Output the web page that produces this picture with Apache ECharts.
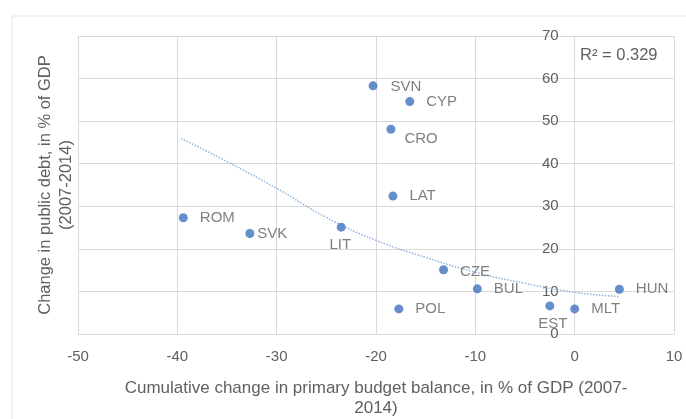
<!DOCTYPE html>
<html>
<head>
<meta charset="utf-8">
<script src="https://cdn.jsdelivr.net/npm/echarts@6/dist/echarts.min.js"></script>
<style>
  html, body { margin: 0; padding: 0; background: #fff; }
  #chart { width: 686px; height: 419px; }
</style>
</head>
<body>
<div id="chart"></div>
<script>
// countries and their values
var countries = ["SVN", "CYP", "CRO", "LAT", "ROM", "SVK", "LIT", "CZE", "BUL", "POL", "EST", "MLT", "HUN"];
var balanceChange = [-20.3, -16.6, -18.5, -18.3, -39.4, -32.7, -23.5, -13.2, -9.8, -17.7, -2.5, 0.0, 4.5];
var debtChange = [58.3, 54.6, 48.1, 32.4, 27.3, 23.6, 25.1, 15.1, 10.6, 5.9, 6.6, 5.9, 10.5];

// points
var trendX = [-39.6, -35, -30, -25, -20, -15, -10, -5, 0, 4.5];
var trendY = [45.9, 40.5, 34.2, 27.4, 22.0, 18.0, 14.5, 11.9, 9.8, 8.8];

var xTicks = [-50, -40, -30, -20, -10, 0, 10];
var yTicks = [0, 10, 20, 30, 40, 50, 60, 70];
var rSquared = "R² = 0.329";

var textColor = "#606060";
var gridColor = "#d9d9d9";
var font = "'Liberation Sans', Arial, sans-serif";

// label placement per country
var labelCfg = {
  SVK: { position: "right", distance: 3 },
  LIT: { position: "bottom", distance: 6, offset: [-1, 0] },
  CRO: { position: "right", distance: 9, offset: [0, 10] },
  SVN: { position: "right", distance: 13, offset: [0, 1] },
  CZE: { position: "right", distance: 12, offset: [0, 2] },
  EST: { position: "bottom", distance: 6, offset: [3, 0] },
};

var points = countries.map(function (name, i) {
  var cfg = labelCfg[name] || { position: "right", distance: 12 };
  return {
    value: [balanceChange[i], debtChange[i]],
    name: name,
    label: cfg,
  };
});

var trend = trendX.map(function (x, i) {
  return [x, trendY[i]];
});

var myChart = echarts.init(document.getElementById("chart"));
var option = {
  animation: false,
  backgroundColor: "#fff",
  textStyle: { fontFamily: font },
  grid: {
    left: 78,
    right: 12,
    top: 36,
    bottom: 85,
    outerBoundsMode: "none",
  },
  graphic: [
    {
      type: "rect",
      shape: { x: 12, y: 16, width: 700, height: 450 },
      style: { fill: "none", stroke: "#e4e4e4", lineWidth: 1 },
      silent: true,
    },
    {
      type: "text",
      left: 580,
      top: 47,
      style: {
        text: rSquared,
        fill: textColor,
        font: "16.5px " + font,
      },
    },
  ],
  xAxis: {
    type: "value",
    min: xTicks[0],
    max: xTicks[xTicks.length - 1],
    interval: 10,
    name: "Cumulative change in primary budget balance, in % of GDP (2007-\n2014)",
    nameLocation: "middle",
    nameGap: 44,
    nameTextStyle: {
      color: textColor,
      fontSize: 17,
      lineHeight: 20,
      fontFamily: font,
    },
    axisLine: { show: true, onZero: false, lineStyle: { color: gridColor } },
    axisTick: { show: false },
    axisLabel: { color: textColor, fontSize: 15, margin: 15, fontFamily: font },
    splitLine: { show: true, lineStyle: { color: gridColor } },
  },
  yAxis: [
    {
      // left axis, only carries the title
      type: "value",
      position: "left",
      min: yTicks[0],
      max: yTicks[yTicks.length - 1],
      interval: 10,
      name: "Change in public debt, in % of GDP\n(2007-2014)",
      nameLocation: "middle",
      nameRotate: 90,
      nameGap: 1,
      nameTextStyle: {
        color: textColor,
        fontSize: 16.5,
        lineHeight: 21,
        fontFamily: font,
      },
      axisLine: { show: false, onZero: false },
      axisTick: { show: false },
      axisLabel: { show: false },
      splitLine: { show: true, lineStyle: { color: gridColor } },
    },
    {
      // tick labels sit on the x = 0 line
      type: "value",
      position: "left",
      min: yTicks[0],
      max: yTicks[yTicks.length - 1],
      interval: 10,
      axisLine: { show: true, onZero: false, lineStyle: { color: gridColor } },
      axisTick: { show: false },
      axisLabel: { color: textColor, fontSize: 15, margin: 16, fontFamily: font },
      splitLine: { show: false },
    },
  ],
  series: [
    {
      name: "trend",
      type: "line",
      data: trend,
      smooth: true,
      showSymbol: false,
      silent: true,
      lineStyle: { color: "#8eb2dc", width: 1.5, type: "dotted" },
      z: 1,
    },
    {
      name: "countries",
      type: "scatter",
      data: points,
      symbolSize: 9,
      itemStyle: { color: "#3f72bd" },
      label: {
        show: true,
        formatter: "{b}",
        color: textColor,
        fontSize: 15,
        fontFamily: font,
      },
      z: 3,
    },
  ],
};
myChart.setOption(option, true);

// move the labelled y axis onto x = 0
var xZero = myChart.convertToPixel({ xAxisIndex: 0 }, 0);
var xMin = myChart.convertToPixel({ xAxisIndex: 0 }, xTicks[0]);
myChart.setOption({
  yAxis: [{}, { offset: -(xZero - xMin) }],
});
</script>
</body>
</html>
